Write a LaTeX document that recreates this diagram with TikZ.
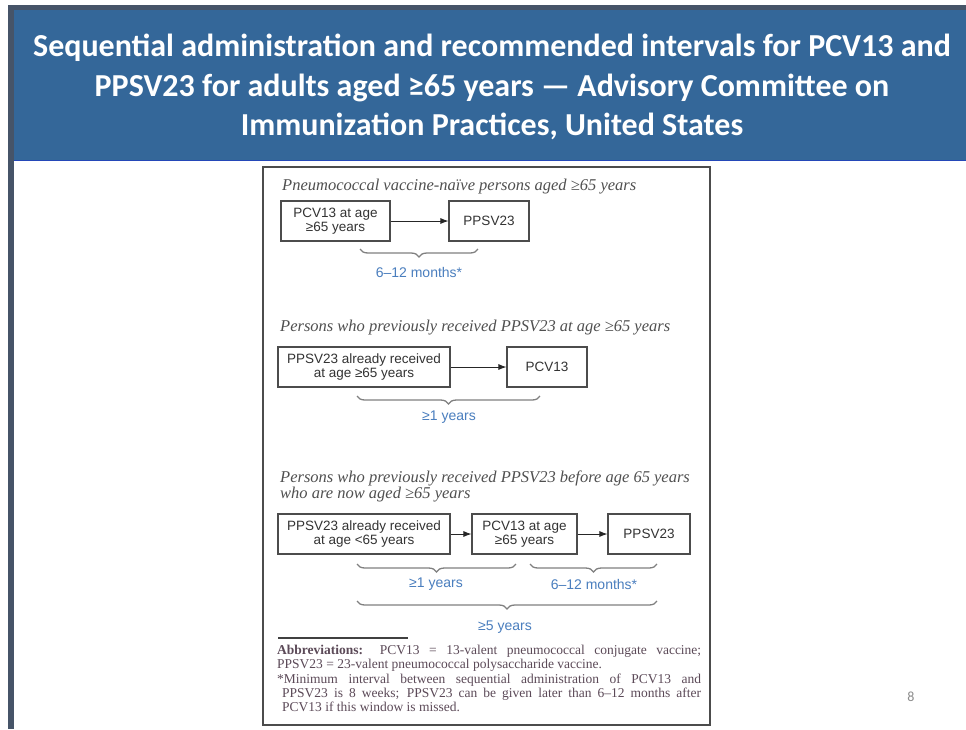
\documentclass[tikz,border=0pt]{standalone}
\usepackage{fontspec}
\setmainfont{Liberation Serif}
\setsansfont{Liberation Sans}
\newfontfamily\titlefont{Carlito}
\usepackage{xcolor}
\usetikzlibrary{positioning,decorations.pathreplacing,arrows.meta}

\definecolor{bannerblue}{RGB}{52,103,153}
\definecolor{slateedge}{RGB}{70,84,104}
\definecolor{labelblue}{RGB}{74,126,190}
\definecolor{headgray}{RGB}{80,80,80}
\definecolor{notecolor}{RGB}{92,74,88}

\tikzset{
  vbox/.style={draw=black!70, line width=1.1pt, minimum height=40pt, align=center,
    font=\sffamily\fontsize{13.5}{14.5}\selectfont, text=black!80, inner sep=2pt},
  link/.style={-{Latex[length=8pt,width=6pt]}, line width=0.9pt, black!85},
  span/.style={decorate, decoration={brace, mirror, amplitude=8pt}, line width=1.3pt, black!50},
  spanlabel/.style={text=labelblue, font=\sffamily\fontsize{14}{14}\selectfont},
  heading/.style={anchor=west, align=left, text=headgray, inner sep=0pt,
    font=\itshape\fontsize{16.5}{16}\selectfont}
}

\begin{document}
\begin{tikzpicture}[x=1pt,y=-1pt]
  \useasboundingbox (0,0) rectangle (966,729);
  \fill[white] (0,0) rectangle (966,729);

  % Slide frame and banner
  \fill[slateedge] (8,5) rectangle (966,10);
  \fill[slateedge] (8,5) rectangle (14,729);
  \fill[bannerblue] (14,10) rectangle (966,160);
  \draw[blue!30!bannerblue, line width=1pt] (14,160) -- (966,160);
  \node[text=white, align=center, font=\titlefont\bfseries\fontsize{32}{39.5}\selectfont]
    (title) at (492,87) {Sequential administration and recommended intervals for PCV13 and\\
    PPSV23 for adults aged ≥65 years — Advisory Committee on\\
    Immunization Practices, United States};

  % Figure frame
  \draw[black!70, line width=2.5pt] (263,167) rectangle (710,725);

  % Vaccine-naive persons
  \node[heading] (headnaive) at (282,187) {Pneumococcal vaccine-naïve persons aged ≥65 years};
  \node[vbox, minimum width=109pt] (naivepcv) at (335.5,221) {PCV13 at age\\≥65 years};
  \node[vbox, minimum width=80pt] (naiveppsv) at (489,221) {PPSV23};
  \draw[link] (naivepcv) -- (naiveppsv);
  \draw[span] (360,249) -- (478,249);
  \node[spanlabel] (naivegap) at (419,272) {6–12 months*};

  % PPSV23 received at age >=65
  \node[heading] (headafter) at (280,328) {Persons who previously received PPSV23 at age ≥65 years};
  \node[vbox, minimum width=172pt] (afterppsv) at (364,367) {PPSV23 already received\\at age ≥65 years};
  \node[vbox, minimum width=80pt] (afterpcv) at (547,367) {PCV13};
  \draw[link] (afterppsv) -- (afterpcv);
  \draw[span] (357,396) -- (540,396);
  \node[spanlabel] (aftergap) at (449,417) {≥1 years};

  % PPSV23 received before age 65
  \node[heading] (headbefore) at (280,486) {Persons who previously received PPSV23 before age 65 years\\
    who are now aged ≥65 years};
  \node[vbox, minimum width=172pt] (beforeppsv) at (364,534) {PPSV23 already received\\at age <65 years};
  \node[vbox, minimum width=105pt] (beforepcv) at (524.5,534) {PCV13 at age\\≥65 years};
  \node[vbox, minimum width=82pt] (beforeppsvtwo) at (649,534) {PPSV23};
  \draw[link] (beforeppsv) -- (beforepcv);
  \draw[link] (beforepcv) -- (beforeppsvtwo);
  \draw[span] (357,564) -- (516,564);
  \node[spanlabel] (beforegapone) at (436,584) {≥1 years};
  \draw[span] (530,564) -- (657,564);
  \node[spanlabel] (beforegaptwo) at (594,584) {6–12 months*};
  \draw[span] (357,601) -- (657,601);
  \node[spanlabel] (beforegaptotal) at (505,627) {≥5 years};

  % Footnotes
  \draw[black!75, line width=2pt] (278,638) -- (408,638);
  \node[anchor=north west, text width=424pt, align=justify, inner sep=0pt, text=notecolor,
    font=\fontsize{13.5}{14.3}\selectfont] (notes) at (277,645)
    {\parskip=0pt\textbf{Abbreviations:} PCV13 = 13-valent pneumococcal conjugate vaccine;\linebreak
    PPSV23 = 23-valent pneumococcal polysaccharide vaccine.\par
    \hangindent=5pt\hangafter=1 *Minimum interval between sequential administration of PCV13 and\linebreak
    PPSV23 is 8 weeks; PPSV23 can be given later than 6–12 months after\linebreak
    PCV13 if this window is missed.\par};

  % Page number
  \node[text=black!45, font=\titlefont\fontsize{14}{14}\selectfont] (pagenum) at (911,697) {8};
\end{tikzpicture}
\end{document}
